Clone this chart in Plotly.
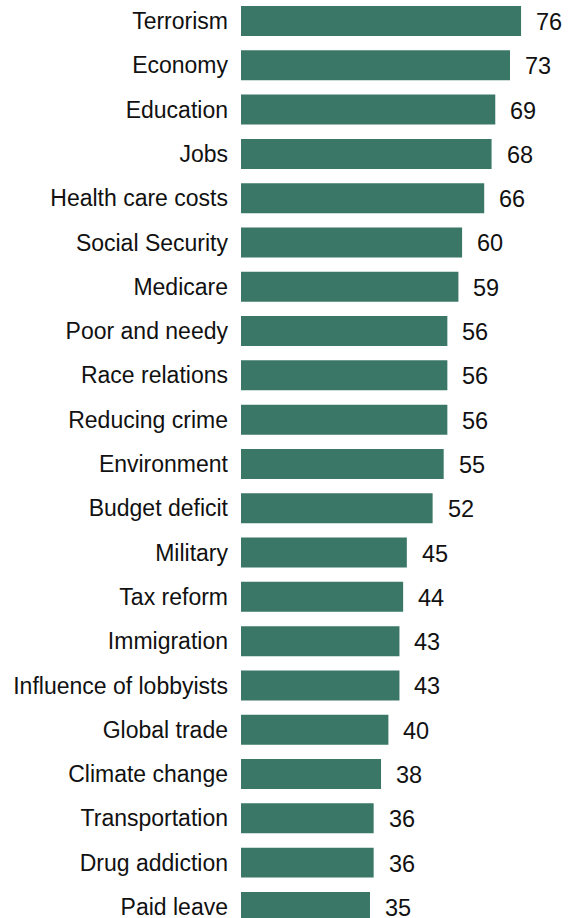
import plotly.graph_objects as go

categories = ["Terrorism", "Economy", "Education", "Jobs", "Health care costs",
              "Social Security", "Medicare", "Poor and needy", "Race relations",
              "Reducing crime", "Environment", "Budget deficit", "Military",
              "Tax reform", "Immigration", "Influence of lobbyists", "Global trade",
              "Climate change", "Transportation", "Drug addiction", "Paid leave"]
values = [76, 73, 69, 68, 66, 60, 59, 56, 56, 56, 55, 52, 45, 44, 43, 43, 40, 38, 36, 36, 35]

BAR = "#3a7767"
FONT = "Liberation Sans, Arial, sans-serif"

fig = go.Figure()
fig.add_trace(go.Bar(
    y=categories, x=values, orientation="h",
    marker=dict(color=BAR, line=dict(width=0)),
    hoverinfo="skip",
))
for c, v in zip(categories, values):
    fig.add_annotation(x=v, y=c, text=str(v), showarrow=False,
                       xanchor="left", yanchor="middle", xshift=13, yshift=-1,
                       font=dict(family=FONT, size=23.5, color="#111"))

fig.update_layout(
    width=572, height=918,
    margin=dict(l=241, r=0, t=0, b=0, autoexpand=False),
    paper_bgcolor="white", plot_bgcolor="white",
    bargap=0.323,
    showlegend=False,
    xaxis=dict(range=[0, 331 / 3.685], visible=False, fixedrange=True,
               automargin=False),
    yaxis=dict(range=[20.25, -0.474], showgrid=False, zeroline=False,
               showline=False, ticks="", ticklabelstandoff=12,
               tickfont=dict(family=FONT, size=23, color="#111"),
               fixedrange=True, automargin=False),
)
fig.write_html("out.html", config={"displayModeBar": False})
